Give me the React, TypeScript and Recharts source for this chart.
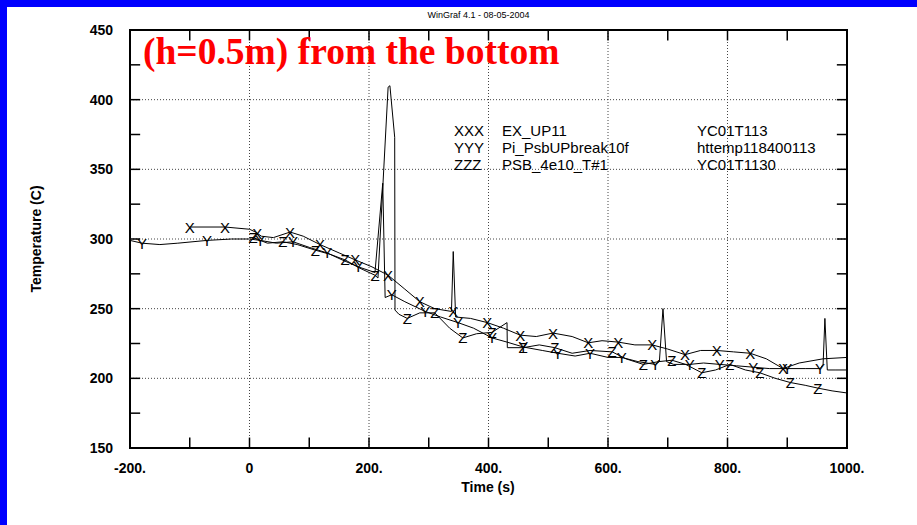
import React from 'react';
import {
  ComposedChart,
  Line,
  Scatter,
  XAxis,
  YAxis,
  ReferenceLine,
  ReferenceArea,
} from 'recharts';

// axis ticks
const xTicks = [-200, 0, 200, 400, 600, 800, 1000];
const yTicks = [150, 200, 250, 300, 350, 400, 450];
const xMinor = [-100, 0, 100, 200, 300, 400, 500, 600, 700, 800, 900];
const yMinor = [175, 200, 225, 250, 275, 300, 325, 350, 375, 400, 425];
const xGrid = [0, 200, 400, 600, 800];
const yGrid = [200, 250, 300, 350, 400];

// XXX  EX_UP11
const xTime = [-100, -41, 0, 10, 20, 40, 68, 90, 118, 150, 177, 205, 232, 260, 285, 310, 338, 341, 345, 370, 398, 425, 453, 480, 508, 540, 567, 590, 617, 645, 674, 700, 729, 755, 782, 810, 838, 865, 893, 920, 960, 1000];
const xTemp = [308.6, 308.6, 307, 305, 302, 301, 305, 302, 296, 290, 285, 280, 274, 264, 255, 250, 248, 291, 244, 243, 240, 236, 231, 230, 232.5, 230, 225.5, 227, 226, 224, 224, 221, 217, 220, 220, 219, 218, 214, 207, 211, 214, 215];
const xMarkT = [-100, -41, 13, 68, 118, 177, 232, 285, 341, 398, 453, 508, 567, 617, 674, 729, 782, 838, 893];
const xMarkV = [308.6, 308.6, 304, 305, 296, 285, 274, 255, 248, 240, 231, 232.5, 225.5, 226, 224, 217, 220, 218, 207];

// YYY  Pi_PsbUPbreak10f
const yTime = [-200, -180, -150, -120, -71, -30, 0, 18, 45, 73, 100, 130, 155, 182, 210, 223, 227, 238, 260, 294, 320, 349, 375, 406, 431, 458, 490, 516, 545, 570, 600, 623, 650, 679, 686, 692, 698, 710, 737, 760, 787, 815, 843, 870, 900, 930, 955, 960, 963, 967, 980, 1000];
const yTemp = [299, 297, 296, 297, 299, 300, 300, 299, 297, 298, 294, 290, 285, 280, 276, 340, 258, 260, 255, 248, 244, 240, 236, 229, 226, 222.5, 220, 218, 216, 218, 215, 215, 212, 210, 212, 250, 212, 210, 210, 211, 210, 209, 208, 207, 207, 207, 207, 210, 243, 206, 206, 206];
const yMarkT = [-180, -71, 18, 73, 130, 182, 238, 294, 349, 406, 458, 516, 570, 623, 679, 737, 787, 843, 900, 955];
const yMarkV = [297, 299, 299, 298, 290, 280, 260, 248, 240, 229, 222.5, 218, 218, 215, 210, 210, 210, 208, 207, 207];

// ZZZ  PSB_4e10_T#1
const zTime = [0, 6, 30, 56, 80, 110, 135, 160, 185, 210, 215, 232, 235, 243, 243.5, 250, 264, 285, 310, 335, 357, 380, 406, 431, 431.5, 458, 485, 511, 540, 570, 607, 630, 659, 685, 707, 730, 757, 780, 804, 830, 854, 880, 905, 930, 951, 975, 1000];
const zTemp = [301, 301, 297, 298, 296, 292, 289, 285, 279, 274, 272, 409, 410, 373, 249, 246, 243, 247, 247, 236, 229, 232, 233, 240, 222, 222, 224, 222, 218, 220, 219, 214, 210, 212, 213, 210, 204, 206, 210, 206, 204, 200, 197, 195, 193, 191, 189.5];
const zMarkT = [6, 56, 110, 160, 210, 264, 310, 357, 406, 458, 511, 607, 659, 707, 757, 804, 854, 905, 951];
const zMarkV = [301, 298, 292, 285, 274, 243, 247, 229, 233, 222, 222, 219, 210, 213, 204, 210, 204, 197, 193];

const legendRows = [
  ['XXX', 'EX_UP11', 'YC01T113'],
  ['YYY', 'Pi_PsbUPbreak10f', 'httemp118400113'],
  ['ZZZ', 'PSB_4e10_T#1', 'YC01T1130'],
];

const pts = (ts: number[], vs: number[]) => ts.map((t, i) => ({ t, T: vs[i] }));

const SANS = 'Arial, "Liberation Sans", sans-serif';

const letter = (ch: string) => (p: any) => (
  <text
    x={p.cx}
    y={p.cy}
    textAnchor="middle"
    dominantBaseline="central"
    fontSize={15}
    fontFamily={SANS}
    fill="#000"
  >
    {ch}
  </text>
);

const series = [
  { id: 'x', ch: 'X', line: pts(xTime, xTemp), marks: pts(xMarkT, xMarkV) },
  { id: 'y', ch: 'Y', line: pts(yTime, yTemp), marks: pts(yMarkT, yMarkV) },
  { id: 'z', ch: 'Z', line: pts(zTime, zTemp), marks: pts(zMarkT, zMarkV) },
];

const tickFont = { fontSize: 14, fontWeight: 700, fontFamily: SANS, fill: '#000' };

export default function App() {
  return (
    <div
      style={{
        position: 'absolute',
        left: 0,
        top: 0,
        width: 917,
        height: 525,
        background: '#fff',
        fontFamily: SANS,
        overflow: 'hidden',
      }}
    >
      <div style={{ position: 'absolute', left: 0, top: 0, width: 917, height: 7, background: '#0000ff' }} />
      <div style={{ position: 'absolute', left: 0, top: 0, width: 7, height: 525, background: '#0000ff' }} />

      <div style={{ position: 'absolute', left: 0, width: 957, top: 10, textAlign: 'center', fontSize: 9 }}>
        WinGraf 4.1 - 08-05-2004
      </div>

      <ComposedChart
        width={917}
        height={525}
        margin={{ top: 30, right: 70, bottom: 47, left: 70 }}
        style={{ position: 'absolute', left: 0, top: 0 }}
      >
        <XAxis
          type="number"
          dataKey="t"
          domain={[-200, 1000]}
          ticks={xTicks}
          allowDataOverflow
          height={30}
          tickLine={false}
          axisLine={false}
          tickSize={6}
          tickMargin={9}
          tick={tickFont}
          tickFormatter={(v: number) => (v === 0 ? '0' : `${v}.`)}
        />
        <YAxis
          type="number"
          domain={[150, 450]}
          ticks={yTicks}
          allowDataOverflow
          width={60}
          tickLine={false}
          axisLine={false}
          tickSize={6}
          tickMargin={11}
          tick={tickFont}
        />
        {xGrid.map((v) => (
          <ReferenceLine key={'gx' + v} x={v} stroke="#444" strokeDasharray="1 2" />
        ))}
        {yGrid.map((v) => (
          <ReferenceLine key={'gy' + v} y={v} stroke="#444" strokeDasharray="1 2" />
        ))}
        {xMinor.map((v) => (
          <ReferenceLine key={'tb' + v} segment={[{ x: v, y: 150 }, { x: v, y: 157.5 }]} stroke="#000" strokeWidth={1.5} />
        ))}
        {xMinor.map((v) => (
          <ReferenceLine key={'tt' + v} segment={[{ x: v, y: 450 }, { x: v, y: 442.5 }]} stroke="#000" strokeWidth={1.5} />
        ))}
        {yMinor.map((v) => (
          <ReferenceLine key={'tl' + v} segment={[{ x: -200, y: v }, { x: -183, y: v }]} stroke="#000" strokeWidth={1.5} />
        ))}
        {yMinor.map((v) => (
          <ReferenceLine key={'tr' + v} segment={[{ x: 1000, y: v }, { x: 983, y: v }]} stroke="#000" strokeWidth={1.5} />
        ))}
        {series.map((s) => (
          <Line
            key={'l' + s.id}
            data={s.line}
            dataKey="T"
            type="linear"
            stroke="#000"
            strokeWidth={1}
            dot={false}
            activeDot={false}
            isAnimationActive={false}
          />
        ))}
        {series.map((s) => (
          <Scatter
            key={'m' + s.id}
            data={s.marks}
            dataKey="T"
            shape={letter(s.ch)}
            isAnimationActive={false}
          />
        ))}
        <ReferenceArea x1={-200} x2={1000} y1={150} y2={450} fill="none" fillOpacity={0} stroke="#000" strokeWidth={2} />
      </ComposedChart>

      <div
        style={{
          position: 'absolute',
          left: 143,
          top: 32,
          color: '#ff0000',
          fontFamily: '"Liberation Serif", "Times New Roman", serif',
          fontWeight: 700,
          fontSize: 37.5,
          lineHeight: '40px',
          whiteSpace: 'nowrap',
        }}
      >
        (h=0.5m) from the bottom
      </div>

      {legendRows.map((r, i) => (
        <div key={r[0]} style={{ position: 'absolute', top: 122 + i * 17, left: 0, fontSize: 15, lineHeight: '17px', whiteSpace: 'nowrap' }}>
          <span style={{ position: 'absolute', left: 454 }}>{r[0]}</span>
          <span style={{ position: 'absolute', left: 502 }}>{r[1]}</span>
          <span style={{ position: 'absolute', left: 697 }}>{r[2]}</span>
        </div>
      ))}

      <div style={{ position: 'absolute', left: 388, width: 200, top: 479, textAlign: 'center', fontSize: 14, fontWeight: 700 }}>
        Time (s)
      </div>
      <div
        style={{
          position: 'absolute',
          left: 36 - 100,
          top: 240 - 9,
          width: 200,
          textAlign: 'center',
          fontSize: 14,
          fontWeight: 700,
          transform: 'rotate(-90deg)',
        }}
      >
        Temperature (C)
      </div>
    </div>
  );
}
